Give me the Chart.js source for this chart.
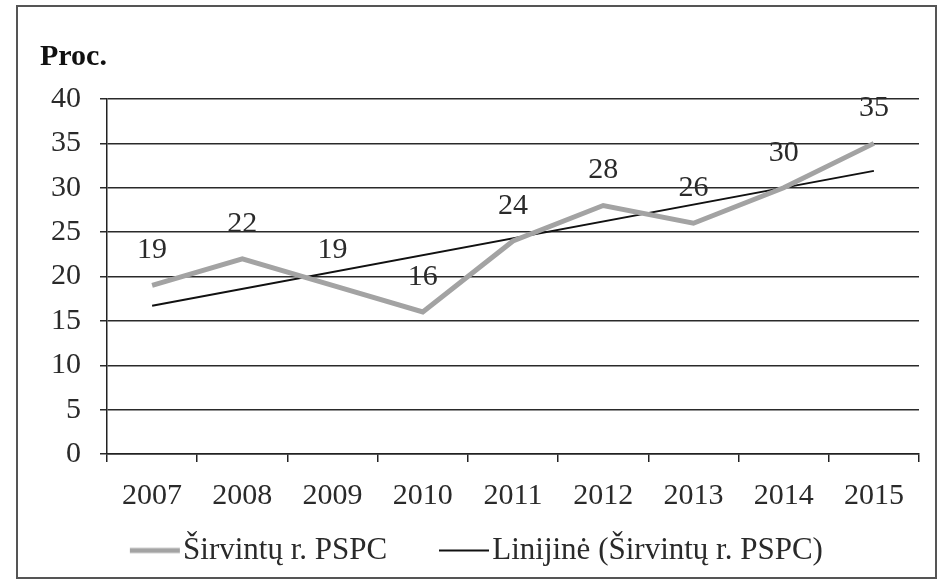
<!DOCTYPE html>
<html>
<head>
<meta charset="utf-8">
<script src="https://cdn.jsdelivr.net/npm/chart.js@4/dist/chart.umd.min.js"></script>
<style>
  html, body { margin: 0; padding: 0; background: #fff; }
  #wrap { width: 941px; height: 584px; }
</style>
</head>
<body>
<div id="wrap"><canvas id="chart" width="941" height="584"></canvas></div>
<script>
const years = ["2007", "2008", "2009", "2010", "2011", "2012", "2013", "2014", "2015"]
const shares = [19, 22, 19, 16, 24, 28, 26, 30, 35]
// trend line only read at its two ends, gaps spanned
const trend = [16.7, null, null, null, null, null, null, null, 31.9]
const seriesName = "Širvintų r. PSPC"
const trendName = "Linijinė (Širvintų r. PSPC)"
const yTitle = "Proc."

const serif = "'Liberation Serif', 'Times New Roman', serif"
const ink = "#2a2a2a"

// legend sample: blank on the left, 50px line on the right
const sample = (color, width) => {
    const c = document.createElement("canvas")
    c.width = 98
    c.height = 12
    const g = c.getContext("2d")
    g.strokeStyle = color
    g.lineWidth = width
    g.beginPath()
    g.moveTo(47, 6)
    g.lineTo(97, 6)
    g.stroke()
    return c
}

// value labels over the grey line
const valueLabels = {
    id: "valueLabels",
    afterDatasetsDraw(chart) {
        const ctx = chart.ctx
        const meta = chart.getDatasetMeta(0)
        ctx.save()
        ctx.font = "30px " + serif
        ctx.fillStyle = ink
        ctx.textAlign = "center"
        ctx.textBaseline = "middle"
        meta.data.forEach((pt, i) => {
            ctx.fillText(String(shares[i]), pt.x, pt.y - 35)
        })
        ctx.restore()
    }
}

// axis title and the frame of the scan
const frame = {
    id: "frame",
    afterDraw(chart) {
        const ctx = chart.ctx
        ctx.save()
        ctx.font = "bold 30px " + serif
        ctx.fillStyle = "#111"
        ctx.textBaseline = "alphabetic"
        ctx.fillText(yTitle, 40, 65)
        ctx.strokeStyle = "#555"
        ctx.lineWidth = 2
        ctx.strokeRect(17, 6, 919, 572)
        ctx.restore()
    }
}

const ctx = document.querySelector("#chart")
const chart = new Chart(ctx, {
    type: "line",
    data: {
        labels: years,
        datasets: [{
            label: seriesName,
            data: shares,
            borderColor: "#a3a3a3",
            backgroundColor: "#a3a3a3",
            borderWidth: 5,
            pointRadius: 0,
            pointStyle: sample("#a3a3a3", 5),
            tension: 0
        }, {
            label: trendName,
            data: trend,
            spanGaps: true,
            borderColor: "#111",
            backgroundColor: "#111",
            borderWidth: 2,
            pointRadius: 0,
            pointStyle: sample("#111", 2),
            tension: 0
        }]
    },
    options: {
        responsive: false,
        animation: false,
        layout: { padding: { top: 99, right: 22, left: 0, bottom: 8 } },
        plugins: {
            legend: {
                position: "bottom",
                labels: {
                    font: { family: serif, size: 31 },
                    color: ink,
                    usePointStyle: true,
                    pointStyleWidth: 71.5,
                    padding: 18
                }
            },
            tooltip: { enabled: false }
        },
        scales: {
            x: {
                offset: true,
                grid: { display: true, drawOnChartArea: false, offset: true, tickLength: 8, color: "#222", lineWidth: 1.5 },
                border: { color: "#222", width: 1.5 },
                ticks: { font: { family: serif, size: 30 }, color: ink, padding: 16, maxRotation: 0, autoSkip: false },
                afterFit: (s) => { s.height = 63 }
            },
            y: {
                min: 0,
                max: 40,
                ticks: { stepSize: 5, font: { family: serif, size: 30 }, color: ink, padding: 19 },
                grid: { color: "#2a2a2a", lineWidth: 1.5, tickLength: 7 },
                border: { color: "#222", width: 1.5 },
                afterFit: (s) => { s.width = 107 }
            }
        }
    },
    plugins: [valueLabels, frame]
})
</script>
</body>
</html>
